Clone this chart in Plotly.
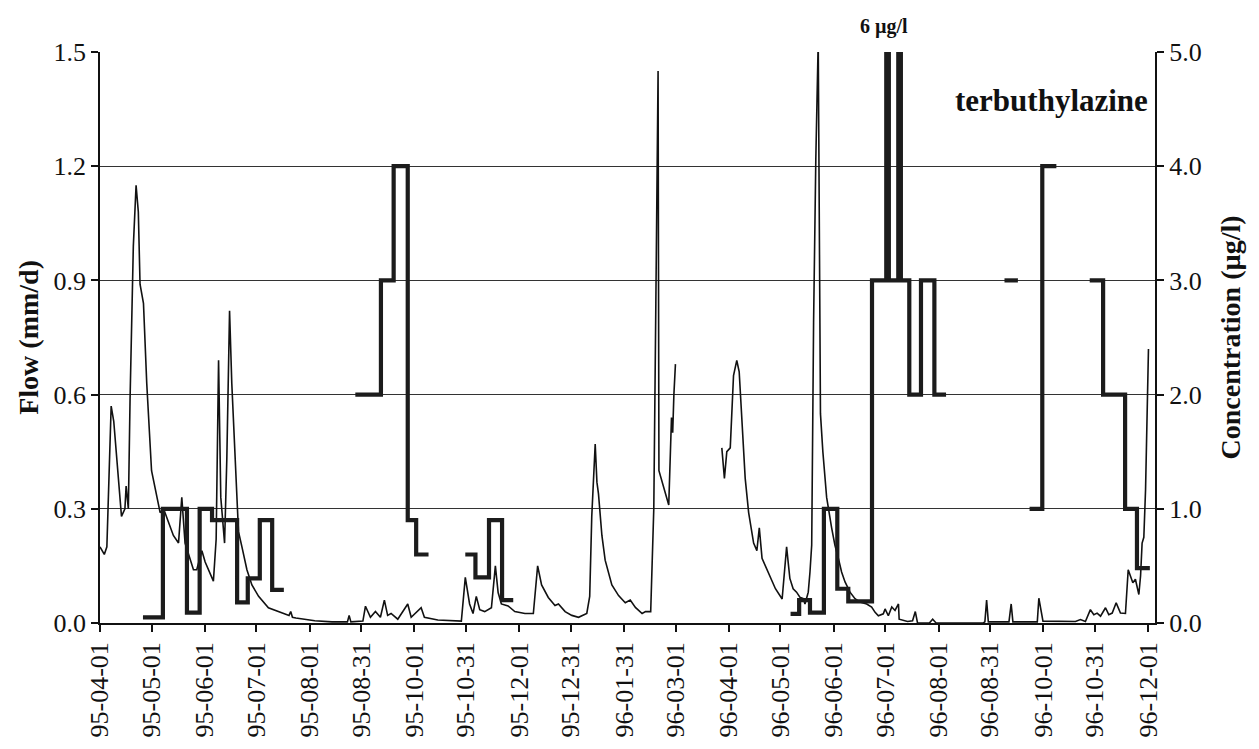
import datetime as dt
import plotly.graph_objects as go

START = dt.date(1995, 4, 1)

# Daily drain flow (mm/d); day offsets counted from 1995-04-01, None = no record
flow_day = [
    0, 2.5, 4, 5.5, 6.5, 8, 10, 12.5, 14.5, 15.2, 16.5, 17.5, 19.4, 21, 22.3, 23.3,
    25.3, 27.2, 30, 33, 35, 37, 40, 42.7, 45.7, 47.6, 49.5, 51.5, 54.4, 56.3, 59.3,
    61.2, 63.1, 66, 67.6, 69, 70.3, 72.5, 73.8, 75.4, 76.7, 78.7, 80.6, 82.6, 85.5,
    88.4, 92.3, 98, 106, 110, 111, 112, 114, 125, 135, 144, 145, 146, 153, 154.5,
    157.4, 160.3, 163.2, 165.5, 167.4, 169.4, 173.3, 179.1, 181.1, 186.9, 188.8,
    196.6, 210.3, 212.6, 215.1, 217.1, 219, 221, 223.9, 227.8, 230.1, 231.7, 233.6,
    237.5, 241.4, 247.3, 252.2, 254.7, 257, 260.9, 264.8, 266.8, 270.7, 274.6,
    278.5, 283.3, 285, 286.2, 288.2, 289.2, 290.1, 292.1, 294, 297.9, 301.8, 305.7,
    308.6, 311.6, 315.5, 317.5, 320.5, 322.3, 323.5, 324.8, 325.3, 331, 332.6,
    333.3, 334, 334.9,
    None,
    361.9, 363.4, 364.8, 366.8, 368.7, 370.6, 372, 373.6, 375.5, 377.5, 380.4,
    382.3, 383.7, 385.3, 388.2, 390.1, 393.1, 397, 399.6, 400.5, 401.5, 403.4,
    405.4, 407.3, 409.3, 410.3, 412.2, 413.2, 414.2, 415.3, 416.6, 418, 419.3,
    420.7, 422.9, 425.8, 427.7, 429.7, 431.6, 433.6, 436.5, 439.4, 442.3, 446.2,
    449.1, 451.1, 453, 455.9, 456.9, 458.8, 460.8, 462.7, 464.7, 465.1, 467.1,
    470, 472.9, 474.5, 475.8, 482.7, 484.6, 486.6, 494, 514, 515, 516, 517, 529,
    530.3, 531.3, 545.5, 546.4, 548.8, 567.7, 570.6, 573.5, 576.4, 578.4, 580.3,
    582.3, 585.2, 587.1, 589.1, 591.4, 593.9, 596.8, 598.4, 599.7, 601.1, 602.6,
    604.6, 605.6, 606.5, 607.5, 608.5, 610.2,
]
flow_mm_d = [
    0.20, 0.18, 0.20, 0.45, 0.57, 0.53, 0.41, 0.28, 0.30, 0.36, 0.30, 0.59, 0.99, 1.15, 1.08, 0.89,
    0.84, 0.63, 0.40, 0.33, 0.29, 0.30, 0.265, 0.23, 0.21, 0.33, 0.21, 0.18, 0.14, 0.14, 0.19,
    0.16, 0.14, 0.11, 0.22, 0.69, 0.33, 0.21, 0.43, 0.82, 0.63, 0.43, 0.24, 0.20, 0.14,
    0.10, 0.07, 0.04, 0.027, 0.02, 0.03, 0.015, 0.013, 0.006, 0.003, 0.003, 0.02, 0.003, 0.005, 0.044,
    0.015, 0.03, 0.015, 0.06, 0.02, 0.025, 0.01, 0.05, 0.015, 0.04, 0.015,
    0.008, 0.005, 0.12, 0.05, 0.025, 0.07, 0.035, 0.03, 0.04, 0.15, 0.08, 0.05,
    0.045, 0.03, 0.025, 0.025, 0.15, 0.10, 0.067, 0.046, 0.05, 0.03, 0.02,
    0.015, 0.025, 0.07, 0.28, 0.47, 0.37, 0.34, 0.23, 0.165, 0.10, 0.072, 0.053,
    0.06, 0.041, 0.025, 0.03, 0.03, 0.30, 0.84, 1.45, 0.40, 0.31, 0.54,
    0.50, 0.60, 0.68,
    None,
    0.46, 0.38, 0.45, 0.46, 0.65, 0.69, 0.66, 0.52, 0.38, 0.29, 0.21,
    0.19, 0.25, 0.17, 0.14, 0.12, 0.09, 0.063, 0.20, 0.16, 0.117, 0.09,
    0.081, 0.068, 0.064, 0.05, 0.081, 0.134, 0.205, 0.79, 1.22, 1.53, 0.55,
    0.45, 0.33, 0.25, 0.205, 0.17, 0.134, 0.108, 0.081, 0.064, 0.055, 0.05,
    0.042, 0.028, 0.019, 0.024, 0.037, 0.019, 0.042, 0.033, 0.05, 0.01, 0.008,
    0.004, 0.006, 0.03, 0.0, 0.0, 0.01, 0.0, 0.0, 0.0, 0.003, 0.06, 0.003, 0.003,
    0.05, 0.003, 0.003, 0.065, 0.005, 0.004, 0.009, 0.004, 0.035, 0.022, 0.026,
    0.018, 0.04, 0.022, 0.026, 0.053, 0.026, 0.025, 0.14, 0.124, 0.106, 0.115,
    0.075, 0.124, 0.21, 0.225, 0.35, 0.72,
]

# Terbuthylazine concentration (ug/l), held constant over each sampling period.
# Each run lists period starts, then its end day repeating the last value.
conc_day = [
    25, 36.6, 50.6, 58, 65.2, 79.8, 86, 93, 100.2, 107, None,
    148.6, 163.5, 170.9, 179.1, 184, 191.2, None,
    212.6, 218.5, 226.4, 234, 240.5, None,
    401.9, 406.9, 413.2, 421.3, 429.1, 435.5, 449.3, 457.6, 459.1, 464.6, 466.1,
    471, 477.8, 485.6, 492.4, None,
    526.4, 534.2, None,
    541, 548.4, 556.6, None,
    576, 583.8, 596.6, 603.5, 611,
]
conc_ug_l = [
    0.05, 1.0, 0.09, 1.0, 0.9, 0.18, 0.39, 0.9, 0.29, 0.29, None,
    2.0, 3.0, 4.0, 0.9, 0.6, 0.6, None,
    0.6, 0.4, 0.9, 0.2, 0.2, None,
    0.08, 0.2, 0.09, 1.0, 0.3, 0.19, 3.0, 6.0, 3.0, 6.0, 3.0,
    2.0, 3.0, 2.0, 2.0, None,
    3.0, 3.0, None,
    1.0, 4.0, 4.0, None,
    3.0, 2.0, 1.0, 0.48, 0.48,
]

tick_dates = [
    "1995-04-01", "1995-05-01", "1995-06-01", "1995-07-01", "1995-08-01", "1995-08-31",
    "1995-10-01", "1995-10-31", "1995-12-01", "1995-12-31", "1996-01-31", "1996-03-01",
    "1996-04-01", "1996-05-01", "1996-06-01", "1996-07-01", "1996-08-01", "1996-08-31",
    "1996-10-01", "1996-10-31", "1996-12-01",
]
tick_labels = [d[2:] for d in tick_dates]
flow_ticks = [0.0, 0.3, 0.6, 0.9, 1.2, 1.5]
conc_ticks = [0.0, 1.0, 2.0, 3.0, 4.0, 5.0]


def to_dates(days):
    out = []
    for d in days:
        if d is None:
            out.append(None)
        else:
            out.append(dt.datetime.combine(START, dt.time()) + dt.timedelta(days=d))
    return out


FONT = "Liberation Serif, Times New Roman, serif"

fig = go.Figure()
fig.add_trace(go.Scatter(
    x=to_dates(flow_day), y=flow_mm_d, mode="lines",
    line=dict(color="#111111", width=1.6), connectgaps=False,
    name="Flow", yaxis="y",
))
fig.add_trace(go.Scatter(
    x=to_dates(conc_day), y=conc_ug_l, mode="lines",
    line=dict(color="#1c1c1c", width=4.2, shape="hv"), connectgaps=False,
    name="terbuthylazine", yaxis="y2",
))

fig.update_layout(
    width=1259, height=749,
    margin=dict(l=100, r=104, t=52, b=126),
    paper_bgcolor="white", plot_bgcolor="white",
    showlegend=False,
    font=dict(family=FONT, color="#111111", size=26),
    xaxis=dict(
        type="date",
        range=[dt.datetime(1995, 4, 1), dt.datetime(1996, 12, 5)],
        tickvals=tick_dates, ticktext=tick_labels, tickangle=-90,
        tickfont=dict(size=26),
        ticks="outside", ticklen=7, tickwidth=1.5, tickcolor="#111111",
        showgrid=False, showline=True, linecolor="#111111", linewidth=1.5,
        zeroline=False,
    ),
    yaxis=dict(
        range=[0, 1.5], tickvals=flow_ticks,
        ticktext=[f"{v:.1f}" for v in flow_ticks],
        tickfont=dict(size=26),
        ticks="outside", ticklen=7, tickwidth=1.5, tickcolor="#111111",
        showgrid=True, gridcolor="#333333", gridwidth=1,
        showline=True, linecolor="#111111", linewidth=1.5, zeroline=False,
    ),
    yaxis2=dict(
        range=[0, 5], tickvals=conc_ticks,
        ticktext=[f"{v:.1f}" for v in conc_ticks],
        tickfont=dict(size=26),
        overlaying="y", side="right",
        ticks="outside", ticklen=7, tickwidth=1.5, tickcolor="#111111",
        showgrid=False, showline=True, linecolor="#111111", linewidth=2,
        zeroline=False,
    ),
)

fig.add_annotation(
    text="<b>Flow (mm/d)</b>", xref="paper", yref="paper",
    x=-0.068, y=0.5, xanchor="center", yanchor="middle", textangle=-90,
    showarrow=False, font=dict(size=28, family=FONT),
)
fig.add_annotation(
    text="<b>Concentration (µg/l)</b>", xref="paper", yref="paper",
    x=1.072, y=0.5, xanchor="center", yanchor="middle", textangle=-90,
    showarrow=False, font=dict(size=28, family=FONT),
)
fig.add_annotation(
    text="<b>terbuthylazine</b>", xref="paper", yref="paper",
    x=0.995, y=0.915, xanchor="right", yanchor="middle",
    showarrow=False, font=dict(size=31, family=FONT),
)
fig.add_annotation(
    text="<b>6 µg/l</b>", xref="x", yref="paper",
    x=dt.datetime(1996, 6, 30), y=1.0, xanchor="center", yanchor="bottom", yshift=12,
    showarrow=False, font=dict(size=20, family=FONT),
)

fig.write_html("out.html")
